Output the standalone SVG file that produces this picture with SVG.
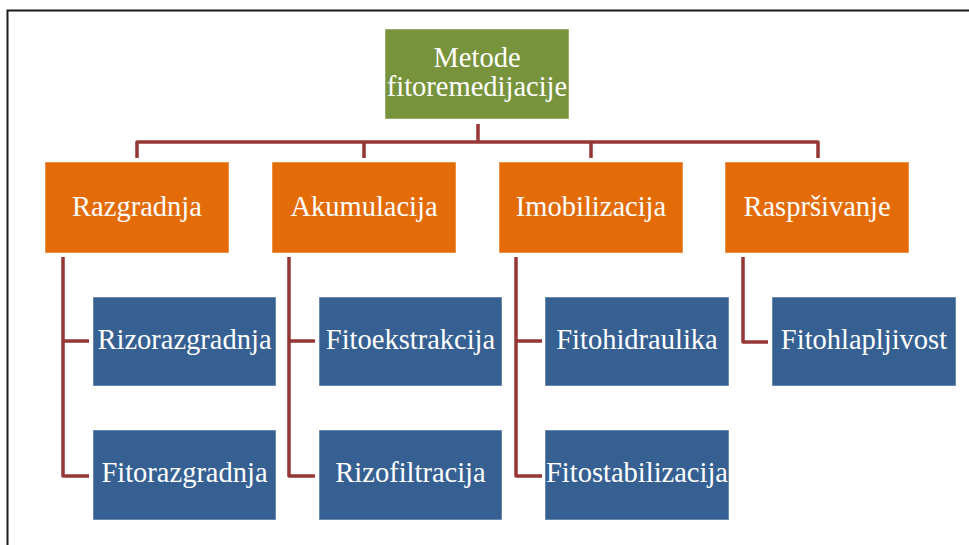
<svg xmlns="http://www.w3.org/2000/svg" width="969" height="545" viewBox="0 0 969 545">
<style>
.lvl0{fill:#77933C;stroke:#ffffff;stroke-opacity:0.5;stroke-width:1}
.lvl1{fill:#E36C09;stroke:#ffffff;stroke-opacity:0.5;stroke-width:1}
.lvl2{fill:#366092;stroke:#ffffff;stroke-opacity:0.5;stroke-width:1}
text{font-family:"Liberation Serif","DejaVu Serif",serif;font-size:28.5px;fill:#ffffff;text-anchor:middle}
.conn{fill:none;stroke:#953735;stroke-width:3.5;stroke-linejoin:round}
</style>
<rect x="0" y="0" width="969" height="545" fill="#ffffff"/>
<path d="M7.5 545 V10.5 H969" fill="none" stroke="#1a1a1a" stroke-width="2"/>
<g id="connectors">
<path class="conn" d="M478 124 V142 M137 158 V142 H818 V158 M364 142 V158 M591 142 V158"/>
<path class="conn" d="M63 257 V476 H89 M63 341 H89"/>
<path class="conn" d="M289 257 V476 H315 M289 341 H315"/>
<path class="conn" d="M516 257 V476 H542 M516 341 H542"/>
<path class="conn" d="M743 257 V342 H768"/>
</g>
<g id="root"><rect class="lvl0" x="385" y="29" width="184" height="90"/><text x="477" y="67">Metode</text><text x="477" y="96">fitoremedijacije</text></g>
<g id="razgradnja"><rect class="lvl1" x="45" y="162" width="184" height="91"/><text x="137" y="216">Razgradnja</text></g>
<g id="akumulacija"><rect class="lvl1" x="272" y="162" width="184" height="91"/><text x="364" y="216">Akumulacija</text></g>
<g id="imobilizacija"><rect class="lvl1" x="499" y="162" width="184" height="91"/><text x="591" y="216">Imobilizacija</text></g>
<g id="rasprsivanje"><rect class="lvl1" x="725" y="162" width="184" height="91"/><text x="817" y="216">Raspršivanje</text></g>
<g id="rizorazgradnja"><rect class="lvl2" x="93" y="297" width="183" height="89"/><text x="184.5" y="349">Rizorazgradnja</text></g>
<g id="fitorazgradnja"><rect class="lvl2" x="93" y="430" width="183" height="90"/><text x="184.5" y="482">Fitorazgradnja</text></g>
<g id="fitoekstrakcija"><rect class="lvl2" x="319" y="297" width="183" height="89"/><text x="410.5" y="349">Fitoekstrakcija</text></g>
<g id="rizofiltracija"><rect class="lvl2" x="319" y="430" width="183" height="90"/><text x="410.5" y="482">Rizofiltracija</text></g>
<g id="fitohidraulika"><rect class="lvl2" x="545" y="297" width="184" height="89"/><text x="637" y="349">Fitohidraulika</text></g>
<g id="fitostabilizacija"><rect class="lvl2" x="545" y="430" width="184" height="90"/><text x="637" y="482">Fitostabilizacija</text></g>
<g id="fitohlapljivost"><rect class="lvl2" x="772" y="297" width="184" height="89"/><text x="864" y="349">Fitohlapljivost</text></g>
</svg>
